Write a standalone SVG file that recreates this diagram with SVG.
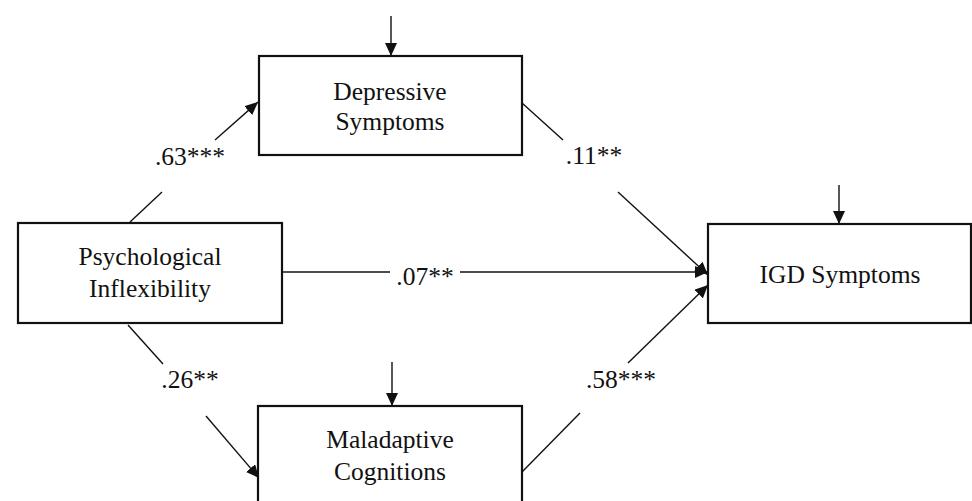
<svg xmlns="http://www.w3.org/2000/svg" width="972" height="501" viewBox="0 0 972 501">
<defs>
<style>
.box{fill:#fff;stroke:#111;stroke-width:2.2}
.lbl{font-family:'Liberation Serif','Times New Roman','DejaVu Serif',serif;font-size:25.5px;fill:#111;text-anchor:middle}
.ln{stroke:#111;stroke-width:1.4;fill:none}
</style>
<marker id="ah" markerUnits="userSpaceOnUse" markerWidth="14" markerHeight="12" refX="13" refY="6" orient="auto" viewBox="0 0 14 12">
<path d="M0,0 L13,6 L0,12 z" fill="#111"/>
</marker>
</defs>
<rect width="972" height="501" fill="#fff"/>
<g id="connectors">
<line class="ln" x1="391" y1="16" x2="391" y2="56" marker-end="url(#ah)"/>
<line class="ln" x1="392" y1="362" x2="392" y2="406" marker-end="url(#ah)"/>
<line class="ln" x1="839" y1="185" x2="839" y2="224" marker-end="url(#ah)"/>
<line class="ln" x1="130" y1="222" x2="162" y2="192"/>
<line class="ln" x1="215" y1="140" x2="258" y2="102" marker-end="url(#ah)"/>
<text class="lbl" x="190" y="165" font-family="Liberation Serif, serif">.63***</text>
<line class="ln" x1="522" y1="103" x2="563" y2="140"/>
<line class="ln" x1="618" y1="192" x2="708" y2="275" marker-end="url(#ah)"/>
<text class="lbl" x="594" y="164">.11**</text>
<line class="ln" x1="282" y1="272" x2="390" y2="272"/>
<line class="ln" x1="460" y1="272" x2="708" y2="272" marker-end="url(#ah)"/>
<text class="lbl" x="425" y="285">.07**</text>
<line class="ln" x1="128" y1="325" x2="163" y2="364"/>
<line class="ln" x1="206" y1="416" x2="259" y2="478" marker-end="url(#ah)"/>
<text class="lbl" x="190" y="388">.26**</text>
<line class="ln" x1="522" y1="472" x2="580" y2="413"/>
<line class="ln" x1="628" y1="363" x2="708" y2="285" marker-end="url(#ah)"/>
<text class="lbl" x="621" y="388">.58***</text>
</g>
<g id="depressive">
<rect class="box" x="259" y="56" width="263" height="99"/>
<text class="lbl" x="390" y="100">Depressive</text>
<text class="lbl" x="390" y="130">Symptoms</text>
</g>
<g id="psych">
<rect class="box" x="18" y="223" width="264" height="100"/>
<text class="lbl" x="150" y="265">Psychological</text>
<text class="lbl" x="150" y="297">Inflexibility</text>
</g>
<g id="maladaptive">
<rect class="box" x="258" y="406" width="264" height="100"/>
<text class="lbl" x="390" y="448">Maladaptive</text>
<text class="lbl" x="390" y="480">Cognitions</text>
</g>
<g id="igd">
<rect class="box" x="708" y="224" width="263" height="99"/>
<text class="lbl" x="840" y="283">IGD Symptoms</text>
</g>
</svg>
